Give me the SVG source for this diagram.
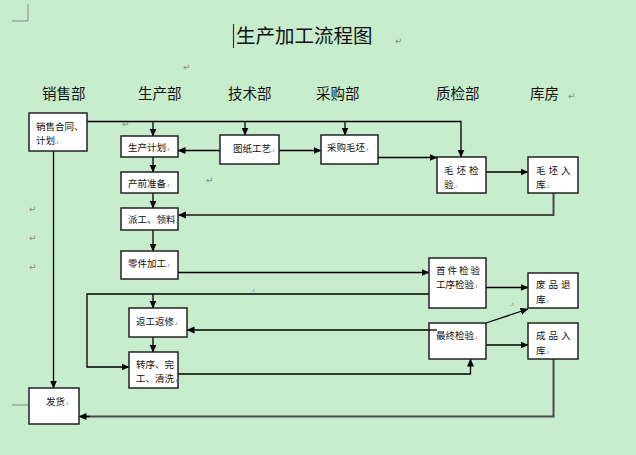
<svg xmlns="http://www.w3.org/2000/svg" width="636" height="455" viewBox="0 0 636 455">
<defs>
<marker id="ah" viewBox="0 0 8 8" refX="7.5" refY="4" markerWidth="8" markerHeight="8" markerUnits="userSpaceOnUse" orient="auto">
<path d="M0,0.5 L8,4 L0,7.5 Z" fill="#000"/>
</marker>
<style>
.bx{fill:#fff;stroke:#222;stroke-width:1.5}
.t{font-family:"Noto Sans CJK SC","Liberation Sans",sans-serif;font-size:9.5px;fill:#111}
.h{font-family:"Noto Sans CJK SC","Liberation Sans",sans-serif;font-size:14.5px;fill:#111}
.pm{font-size:6px;fill:#666}
.rm{font-family:"DejaVu Sans",sans-serif;font-size:9px;fill:#888}
.ln{fill:none;stroke:#000;stroke-width:1.3}
.gl{fill:none;stroke:#4a4a4a;stroke-width:2}
</style>
</defs>
<rect width="636" height="455" fill="#C7EDCC"/>
<path d="M28,4 V21 H12" fill="none" stroke="#888" stroke-width="1"/>
<line x1="233.5" y1="24" x2="233.5" y2="48" stroke="#333" stroke-width="1.2"/>
<text x="236" y="43" font-family="Noto Sans CJK SC,sans-serif" font-size="19.5" fill="#111">生产加工流程图</text>
<text class="rm" x="395" y="44">↵</text>
<text class="rm" x="183" y="70">↵</text>
<g id="headers">
<text class="h" x="42" y="99">销售部</text>
<text class="h" x="138" y="99">生产部</text>
<text class="h" x="228" y="99">技术部</text>
<text class="h" x="316" y="99">采购部</text>
<text class="h" x="436" y="99">质检部</text>
<text class="h" x="530" y="99">库房</text>
<text class="rm" x="568" y="99">↵</text>
</g>
<text class="rm" x="122" y="127">↵</text>
<text class="rm" x="206" y="183">↵</text>
<text class="rm" x="29" y="212">↵</text>
<text class="rm" x="29" y="241">↵</text>
<text class="rm" x="29" y="270">↵</text>
<text class="pm" x="251" y="292" font-family="DejaVu Sans,sans-serif">.ı</text>
<text class="pm" x="510" y="306" font-family="DejaVu Sans,sans-serif">.ı</text>
<line x1="12" y1="405" x2="29" y2="405" stroke="#888" stroke-width="1"/>
<g id="connectors">
<path class="ln" d="M87,121.5 H461 V157" marker-end="url(#ah)"/>
<path class="ln" d="M153,121.5 V136" marker-end="url(#ah)"/>
<path class="ln" d="M245,121.5 V135" marker-end="url(#ah)"/>
<path class="ln" d="M345,121.5 V135" marker-end="url(#ah)"/>
<path class="ln" d="M220,150.5 H178" marker-end="url(#ah)"/>
<path class="ln" d="M279,150.5 H321" marker-end="url(#ah)"/>
<path class="ln" d="M378,157.5 H437" marker-end="url(#ah)"/>
<path class="ln" d="M486,172 H528" marker-end="url(#ah)"/>
<path class="gl" d="M553.5,193 V215 H180"/>
<path class="ln" d="M186,215 H178.5" marker-end="url(#ah)"/>
<path class="ln" d="M153,157 V172" marker-end="url(#ah)"/>
<path class="ln" d="M153,193 V208" marker-end="url(#ah)"/>
<path class="ln" d="M153,230 V251" marker-end="url(#ah)"/>
<path class="ln" d="M178,272.5 H429" marker-end="url(#ah)"/>
<path class="ln" d="M429,294 H87 V367 H129" marker-end="url(#ah)"/>
<path class="ln" d="M153,294 V308" marker-end="url(#ah)"/>
<path class="ln" d="M153,337 V352" marker-end="url(#ah)"/>
<path class="ln" d="M178,374 H470.5 V359" marker-end="url(#ah)"/>
<path class="ln" d="M437,330 H187" marker-end="url(#ah)"/>
<path class="ln" d="M486,287.5 H528" marker-end="url(#ah)"/>
<path class="ln" d="M486,323 L528,309" marker-end="url(#ah)"/>
<path class="ln" d="M486,345 H528" marker-end="url(#ah)"/>
<path class="gl" d="M553.5,359 V416.5 H85"/>
<path class="ln" d="M90,416.5 H79" marker-end="url(#ah)"/>
<path class="ln" d="M53.5,151 V388" marker-end="url(#ah)"/>
</g>
<g id="n-sales">
<rect class="bx" x="29" y="113" width="58" height="38"/>
<text class="t" x="36" y="130">销售合同、</text>
<text class="t" x="36" y="144">计划<tspan class="pm">.ı</tspan></text>
</g>
<g id="n-plan">
<rect class="bx" x="121" y="136" width="57" height="21"/>
<text class="t" x="128" y="150.5">生产计划<tspan class="pm">.ı</tspan></text>
</g>
<g id="n-drawing">
<rect class="bx" x="220" y="135" width="59" height="29"/>
<text class="t" x="233" y="152">图纸工艺<tspan class="pm">.ı</tspan></text>
</g>
<g id="n-purchase">
<rect class="bx" x="321" y="135" width="57" height="29"/>
<text class="t" x="327" y="151">采购毛坯<tspan class="pm">.ı</tspan></text>
</g>
<g id="n-blank-check">
<rect class="bx" x="437" y="157" width="49" height="36"/>
<text class="t" x="444" y="174" letter-spacing="3">毛坯检</text>
<text class="t" x="444" y="188">验<tspan class="pm">.ı</tspan></text>
</g>
<g id="n-blank-store">
<rect class="bx" x="528" y="157" width="50" height="36"/>
<text class="t" x="536" y="174" letter-spacing="3">毛坯入</text>
<text class="t" x="536" y="188">库<tspan class="pm">.ı</tspan></text>
</g>
<g id="n-prep">
<rect class="bx" x="121" y="172" width="57" height="21"/>
<text class="t" x="128" y="187">产前准备<tspan class="pm">.ı</tspan></text>
</g>
<g id="n-dispatch">
<rect class="bx" x="121" y="208" width="57" height="22"/>
<text class="t" x="128" y="223">派工、领料<tspan class="pm">.ı</tspan></text>
</g>
<g id="n-parts">
<rect class="bx" x="121" y="251" width="57" height="28"/>
<text class="t" x="128" y="267">零件加工<tspan class="pm">.ı</tspan></text>
</g>
<g id="n-first-check">
<rect class="bx" x="429" y="258" width="57" height="50"/>
<text class="t" x="436" y="274" letter-spacing="2">首件检验</text>
<text class="t" x="436" y="288">工序检验<tspan class="pm">.ı</tspan></text>
</g>
<g id="n-rework">
<rect class="bx" x="129" y="308" width="58" height="29"/>
<text class="t" x="136" y="324.5">返工返修<tspan class="pm">.ı</tspan></text>
</g>
<g id="n-transfer">
<rect class="bx" x="129" y="352" width="49" height="36"/>
<text class="t" x="136" y="368">转序、完</text>
<text class="t" x="136" y="382">工、清洗<tspan class="pm">.ı</tspan></text>
</g>
<g id="n-final-check">
<rect class="bx" x="429" y="323" width="57" height="36"/>
<text class="t" x="436" y="339">最终检验<tspan class="pm">.ı</tspan></text>
</g>
<path class="ln" d="M429,330 H437"/>
<g id="n-scrap">
<rect class="bx" x="528" y="273" width="50" height="35"/>
<text class="t" x="536" y="288" letter-spacing="3">废品退</text>
<text class="t" x="536" y="303">库<tspan class="pm">.ı</tspan></text>
</g>
<g id="n-finished">
<rect class="bx" x="528" y="323" width="50" height="36"/>
<text class="t" x="536" y="339" letter-spacing="3">成品入</text>
<text class="t" x="536" y="354">库<tspan class="pm">.ı</tspan></text>
</g>
<g id="n-ship">
<rect class="bx" x="29" y="388" width="50" height="36"/>
<text class="t" x="46" y="404.5">发货<tspan class="pm">.ı</tspan></text>
</g>
</svg>
